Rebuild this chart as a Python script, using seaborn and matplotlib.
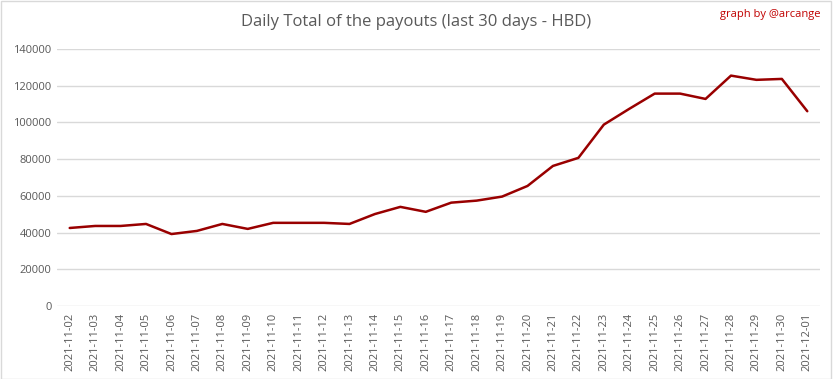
import matplotlib
matplotlib.use("Agg")
import matplotlib.pyplot as plt
import seaborn as sns
import pandas as pd
from matplotlib.patches import Rectangle

dates = ["2021-11-02", "2021-11-03", "2021-11-04", "2021-11-05", "2021-11-06",
         "2021-11-07", "2021-11-08", "2021-11-09", "2021-11-10", "2021-11-11",
         "2021-11-12", "2021-11-13", "2021-11-14", "2021-11-15", "2021-11-16",
         "2021-11-17", "2021-11-18", "2021-11-19", "2021-11-20", "2021-11-21",
         "2021-11-22", "2021-11-23", "2021-11-24", "2021-11-25", "2021-11-26",
         "2021-11-27", "2021-11-28", "2021-11-29", "2021-11-30", "2021-12-01"]
payouts = [42500, 43600, 43600, 44700, 39200, 40900, 44700, 42000, 45300, 45300,
           45300, 44700, 50100, 54000, 51300, 56300, 57400, 59600, 65400, 76300,
           80700, 98800, 107400, 115700, 115700, 112800, 125500, 123200, 123700, 106100]
y_ticks = [0, 20000, 40000, 60000, 80000, 100000, 120000, 140000]

title = "Daily Total of the payouts (last 30 days - HBD)"
credit = "graph by @arcange"

sns.set_style("white")
plt.rcParams['font.family'] = ['Open Sans', 'DejaVu Sans']

df = pd.DataFrame({"date": dates, "payout": payouts})

fig = plt.figure(figsize=(8.33, 3.79), dpi=100)
ax = fig.add_axes([57/833, 1 - 306/379, (820 - 57)/833, (306 - 49)/379])

sns.lineplot(data=df, x="date", y="payout", ax=ax, color="#990000", linewidth=1.8, sort=False)

ax.set_ylim(0, 140000)
ax.set_xlim(-0.5, len(dates) - 0.5)
ax.set_yticks(y_ticks)
ax.set_yticklabels([str(v) for v in y_ticks])
ax.yaxis.grid(True, color="#d9d9d9", linewidth=1)
ax.set_axisbelow(True)
for s in ax.spines.values():
    s.set_visible(False)
ax.set_xlabel("")
ax.set_ylabel("")
ax.tick_params(axis="x", rotation=90, labelsize=8, colors="#595959", length=0, pad=5)
ax.tick_params(axis="y", labelsize=8, colors="#595959", length=0, pad=4)

fig.text(0.5, 1 - 22/379, title, ha="center", va="center", fontsize=12, color="#595959")
fig.text(0.985, 1 - 15/379, credit, ha="right", va="center", fontsize=8, color="#c00000")

fig.patches.append(Rectangle((0.001, 0.001), 0.997, 0.996, transform=fig.transFigure,
                             fill=False, edgecolor="#d9d9d9", linewidth=1))

fig.savefig("out.png", dpi=100)
